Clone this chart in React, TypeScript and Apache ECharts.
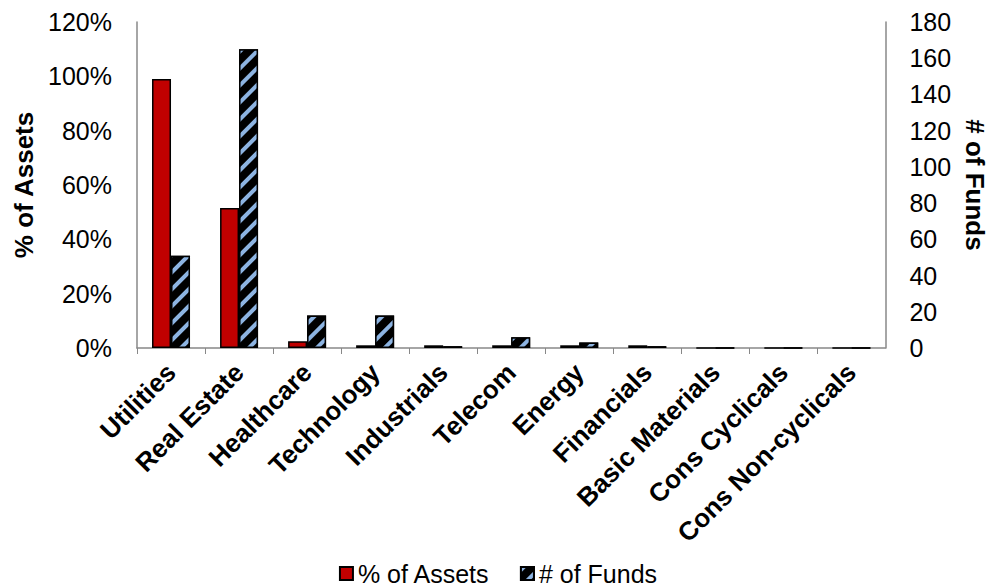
import React, { useEffect, useRef } from "react";
import * as echarts from "echarts";

const categories = [
  "Utilities",
  "Real Estate",
  "Healthcare",
  "Technology",
  "Industrials",
  "Telecom",
  "Energy",
  "Financials",
  "Basic Materials",
  "Cons Cyclicals",
  "Cons Non-cyclicals",
];
const pctAssets = [0.99, 0.515, 0.025, 0.01, 0.01, 0.01, 0.01, 0.01, 0, 0, 0];
const numFunds = [51, 165, 18, 18, 1, 6, 3, 1, 0, 0, 0];
const leftTicks = [0, 0.2, 0.4, 0.6, 0.8, 1.0, 1.2];
const rightTicks = [0, 20, 40, 60, 80, 100, 120, 140, 160, 180];

const FONT = "'Liberation Sans', Arial, sans-serif";

export default function App() {
  const ref = useRef<HTMLDivElement>(null);
  useEffect(() => {
    if (!ref.current) return;
    document.body.style.margin = "0";
    document.body.style.overflow = "hidden";
    document.documentElement.style.overflow = "hidden";
    const chart = echarts.init(ref.current, undefined, { renderer: "svg" });
    const decal = {
      symbol: "rect",
      color: "#8DB4E2",
      dashArrayX: [1, 0],
      dashArrayY: [4, 8],
      rotation: -Math.PI / 4,
      symbolSize: 1,
    };
    chart.setOption({
      animation: false,
      textStyle: { fontFamily: FONT },
      grid: { left: 137, right: 102, top: 22, bottom: 240, containLabel: false },
      legend: {
        top: 556,
        left: "center",
        itemWidth: 13,
        itemHeight: 13,
        itemGap: 30,
        icon: "rect",
        textStyle: { fontSize: 25, color: "#000", fontFamily: FONT },
        data: ["% of Assets", "# of Funds"],
      },
      xAxis: {
        type: "category",
        data: categories,
        axisLine: { lineStyle: { color: "#888", width: 1.5 } },
        axisTick: { show: true, length: 6, lineStyle: { color: "#888" } },
        axisLabel: {
          rotate: 45,
          interval: 0,
          fontSize: 26,
          fontWeight: "bold",
          color: "#000",
          margin: 20,
          fontFamily: FONT,
        },
      },
      yAxis: [
        {
          type: "value",
          min: 0,
          max: 1.2,
          interval: 0.2,
          name: "% of Assets",
          nameLocation: "middle",
          nameGap: 100,
          nameTextStyle: { fontSize: 26, fontWeight: "bold", color: "#000", fontFamily: FONT },
          axisLine: { show: true, lineStyle: { color: "#888", width: 1.5 } },
          axisTick: { show: false },
          splitLine: { show: false },
          axisLabel: {
            fontSize: 25,
            color: "#000",
            margin: 25,
            fontFamily: FONT,
            formatter: (v: number) =>
              leftTicks.some((t) => Math.abs(t - v) < 1e-9) ? Math.round(v * 100) + "%" : "",
          },
        },
        {
          type: "value",
          min: 0,
          max: 180,
          interval: 20,
          name: "# of Funds",
          nameLocation: "middle",
          nameGap: 73,
          nameRotate: -90,
          nameTextStyle: { fontSize: 26, fontWeight: "bold", color: "#000", fontFamily: FONT },
          axisLine: { show: true, lineStyle: { color: "#888", width: 1.5 } },
          axisTick: { show: false },
          splitLine: { show: false },
          axisLabel: {
            fontSize: 25,
            color: "#000",
            margin: 24,
            fontFamily: FONT,
            formatter: (v: number) => (rightTicks.includes(v) ? String(v) : ""),
          },
        },
      ],
      series: [
        {
          name: "% of Assets",
          type: "bar",
          yAxisIndex: 0,
          data: pctAssets,
          barWidth: 19,
          barGap: "0%",
          itemStyle: { color: "#C00000", borderColor: "#000", borderWidth: 1.5 },
        },
        {
          name: "# of Funds",
          type: "bar",
          yAxisIndex: 1,
          data: numFunds,
          barWidth: 19,
          barGap: "0%",
          itemStyle: { color: "#000", borderColor: "#000", borderWidth: 1.5, decal },
        },
      ],
    });
    return () => chart.dispose();
  }, []);
  return <div ref={ref} style={{ width: 996, height: 588 }} />;
}
